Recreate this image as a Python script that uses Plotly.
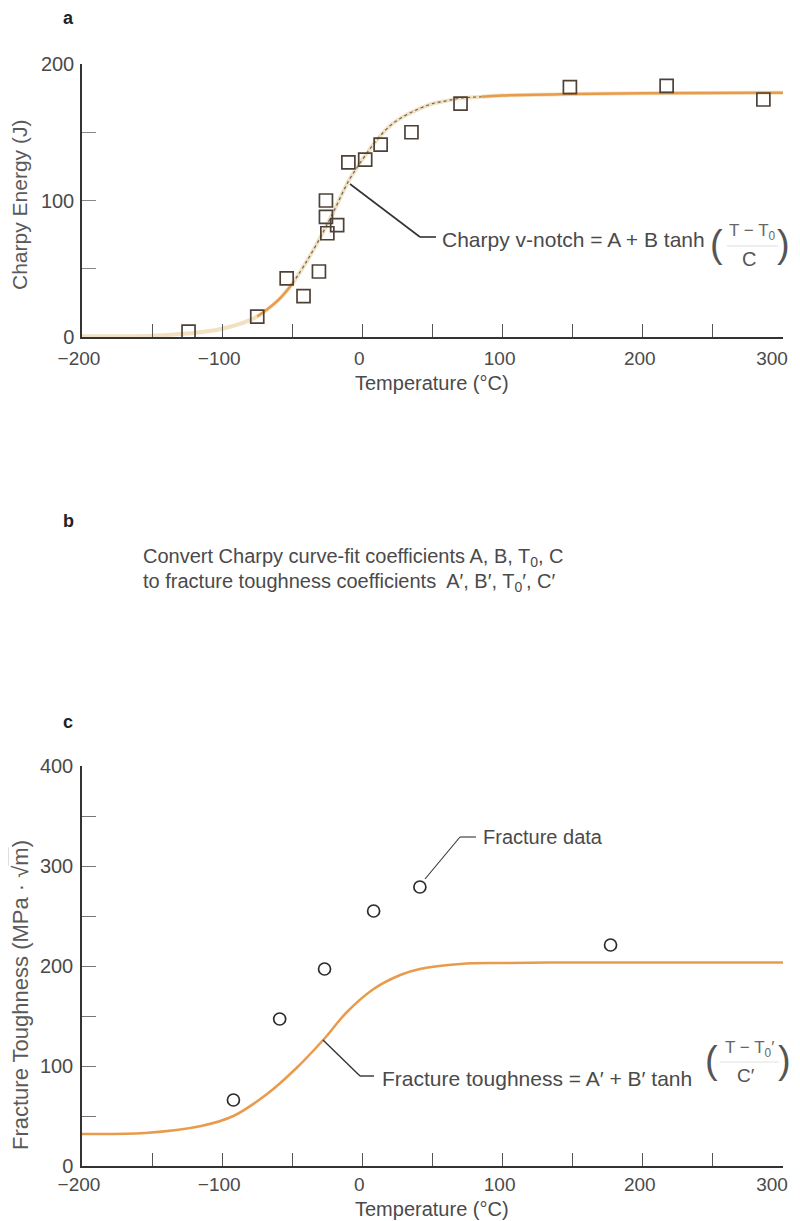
import plotly.graph_objects as go

# ---------------- data ----------------
# Panel a: Charpy V-notch energy
charpy_temp = [-124, -75, -54, -42, -31, -26, -26, -25, -18, -10, 2, 13, 35, 70, 148, 217, 286]
charpy_energy = [4, 15, 43, 30, 48, 100, 88, 76, 82, 128, 130, 141, 150, 171, 183, 184, 174]

charpy_fit_temp = [-200, -150, -125, -100, -75, -60, -50, -40, -30, -20, -10, 0, 10, 20, 30,
                   40, 50, 60, 70, 85, 100, 150, 200, 300]
charpy_fit_energy = [0.5, 1, 2.5, 6, 15, 27, 39, 55, 73, 93, 114, 130, 144, 155, 162,
                     167, 171, 173, 175, 176, 177, 178, 178.5, 179]

# Panel c: fracture toughness
frac_temp = [-92, -59, -27, 8, 41, 177]
frac_tough = [66, 147, 197, 255, 279, 221]

frac_fit_temp = [-200, -155, -115, -92, -68, -47, -28, -11, 8, 27, 41, 70, 100, 150, 200, 300]
frac_fit_tough = [32, 33, 40, 50, 72, 98, 126, 154, 177, 191, 197, 202, 203, 203.5, 203.5, 203.5]

x_range = [-200, 300]
x_ticks = [-200, -100, 0, 100, 200, 300]
x_tick_text = ["\u2212200", "\u2212100", "0", "100", "200", "300\u00a0\u00a0\u00a0"]

# ---------------- helpers ----------------
PAGE_W, PAGE_H = 800, 1221
BODY = 8                      # default page body margin (top/left offset)
W, H = PAGE_W - BODY, PAGE_H - BODY


def X(px):
    return (px - BODY) / W


def Y(py):
    return 1 - (py - BODY) / H


FONT = "Liberation Sans, Arial, sans-serif"
TXT = "#4a4a4a"
ORANGE = "#e99b4c"


def seg(ts, vs, lo, hi):
    return ([t if lo <= t <= hi else None for t in ts],
            [v if lo <= t <= hi else None for t, v in zip(ts, vs)])


fig = go.Figure()

# ---- panel a curve (faded underlay, dotted mid part, orange parts) ----
fig.add_trace(go.Scatter(x=charpy_fit_temp, y=charpy_fit_energy, mode="lines",
                         line=dict(color="#f1e1c0", width=4, shape="spline"),
                         xaxis="x", yaxis="y", hoverinfo="skip", showlegend=False))
sx, sy = seg(charpy_fit_temp, charpy_fit_energy, -50, 85)
fig.add_trace(go.Scatter(x=sx, y=sy, mode="lines",
                         line=dict(color="#6e625a", width=1.2, dash="dot", shape="spline"),
                         xaxis="x", yaxis="y", hoverinfo="skip", showlegend=False))
sx, sy = seg(charpy_fit_temp, charpy_fit_energy, -75, -50)
fig.add_trace(go.Scatter(x=sx, y=sy, mode="lines",
                         line=dict(color=ORANGE, width=2.5, shape="spline"),
                         xaxis="x", yaxis="y", hoverinfo="skip", showlegend=False))
sx, sy = seg(charpy_fit_temp, charpy_fit_energy, 85, 300)
fig.add_trace(go.Scatter(x=sx, y=sy, mode="lines",
                         line=dict(color=ORANGE, width=2.5, shape="spline"),
                         xaxis="x", yaxis="y", hoverinfo="skip", showlegend=False))
fig.add_trace(go.Scatter(x=charpy_temp, y=charpy_energy, mode="markers",
                         marker=dict(symbol="square-open", size=13, color="#4d4238",
                                     line=dict(width=1.7, color="#4d4238")),
                         cliponaxis=False, xaxis="x", yaxis="y", showlegend=False))

# ---- panel c ----
fig.add_trace(go.Scatter(x=frac_fit_temp, y=frac_fit_tough, mode="lines",
                         line=dict(color=ORANGE, width=2.5, shape="spline"),
                         xaxis="x2", yaxis="y2", hoverinfo="skip", showlegend=False))
fig.add_trace(go.Scatter(x=frac_temp, y=frac_tough, mode="markers",
                         marker=dict(symbol="circle-open", size=12, color="#2b2b2b",
                                     line=dict(width=1.7, color="#2b2b2b")),
                         cliponaxis=False, xaxis="x2", yaxis="y2", showlegend=False))

xdom = [X(82), X(783)]
axis_common = dict(showgrid=False, zeroline=False, showline=True, linecolor="#333333",
                   linewidth=1.5, ticks="inside", automargin=False,
                   ticklabeloverflow="allow",
                   tickfont=dict(family=FONT, size=20, color=TXT))

xaxis_common = dict(axis_common, range=x_range, tickmode="array", tickvals=x_ticks,
                    ticktext=x_tick_text, ticklen=13, tickcolor="#555555", tickwidth=1.2,
                    tickfont=dict(family=FONT, size=19, color=TXT), ticklabelshift=-3,
                    minor=dict(dtick=50, tick0=-200, ticks="inside", ticklen=13,
                               tickcolor="#555555", tickwidth=1.2),
                    domain=xdom)

fig.update_layout(
    template="none",
    width=W, height=H,
    margin=dict(l=0, r=0, t=0, b=0, autoexpand=False),
    paper_bgcolor="white", plot_bgcolor="white",
    showlegend=False,
    xaxis=dict(xaxis_common, anchor="y", ticklabelstandoff=3),
    yaxis=dict(axis_common, range=[0, 200], dtick=100, ticklen=14, tickcolor="#888888",
               tickwidth=1.2, minor=dict(dtick=50, ticks="inside", ticklen=14,
                                         tickcolor="#888888", tickwidth=1.2),
               domain=[Y(337), Y(64)], anchor="x", ticklabelstandoff=2),
    xaxis2=dict(xaxis_common, anchor="y2", ticklabelstandoff=0),
    yaxis2=dict(axis_common, range=[0, 400], dtick=100, ticklen=14, tickcolor="#777777",
                tickwidth=1.2, minor=dict(dtick=50, ticks="inside", ticklen=14,
                                          tickcolor="#777777", tickwidth=1.2),
                domain=[Y(1166), Y(766)], anchor="x2", ticklabelstandoff=3),
)

ann = []


def text(px, py, s, size=20, color=TXT, xanchor="center", yanchor="middle", angle=0, bold=False):
    if bold:
        s = "<b>" + s + "</b>"
    ann.append(dict(x=X(px), y=Y(py), xref="paper", yref="paper", text=s, showarrow=False,
                    xanchor=xanchor, yanchor=yanchor, textangle=angle,
                    font=dict(family=FONT, size=size, color=color)))


# panel letters
text(68, 18, "a", size=18, color="#222222", bold=True)
text(68, 521, "b", size=18, color="#222222", bold=True)
text(68, 722, "c", size=18, color="#222222", bold=True)

# axis titles
text(432, 383, "Temperature (\u00b0C)", size=20)
text(432, 1209, "Temperature (\u00b0C)", size=20)
text(20, 205, "Charpy Energy (J)", size=21, color="#5a5a5a", angle=-90)
text(20, 995, "Fracture Toughness (MPa \u00b7 \u221a<span style='text-decoration:overline'>m</span>)",
     size=22, color="#5a5a5a", angle=-90)

# panel b text
text(141, 557, "Convert Charpy curve-fit coefficients A, B, T<sub>0</sub>, C", size=20,
     xanchor="left")
text(141, 583, "to fracture toughness coefficients  A\u2032, B\u2032, T<sub>0</sub>\u2032, C\u2032",
     size=20, xanchor="left")

# panel a callout
text(440, 239, "Charpy v-notch = A + B tanh", size=21, xanchor="left")
text(716, 244, "(", size=38, color="#555555")
text(783, 244, ")", size=38, color="#555555")
text(752, 232, "T \u2212 T<sub>0</sub>", size=17, color="#666666")
text(749, 259, "C", size=20, color="#555555")

# panel c callouts
text(380, 1078, "Fracture toughness = A\u2032 + B\u2032 tanh", size=21, xanchor="left")
text(711, 1060, "(", size=38, color="#555555")
text(784, 1060, ")", size=38, color="#555555")
text(749, 1049, "T \u2212 T<sub>0</sub>\u2032", size=17, color="#666666")
text(746, 1075, "C\u2032", size=19, color="#555555")
text(481, 837, "Fracture data", size=20, xanchor="left")

fig.update_layout(annotations=ann)

shapes = []


def line(pts, color="#333333", width=1.5):
    for (x0, y0), (x1, y1) in zip(pts[:-1], pts[1:]):
        shapes.append(dict(type="line", xref="paper", yref="paper",
                           x0=X(x0), y0=Y(y0), x1=X(x1), y1=Y(y1),
                           line=dict(color=color, width=width)))


line([(350, 184), (420, 237), (436, 237)], width=1.6)
line([(727, 246), (778, 246)], color="#dddddd", width=1)
line([(323, 1040), (360, 1076), (374, 1076)], width=1.4)
line([(720, 1062), (779, 1062)], color="#e2e2e2", width=1)
line([(425, 879), (460, 837), (476, 837)], width=1.1)

fig.update_layout(shapes=shapes)

fig.write_html("out.html")
